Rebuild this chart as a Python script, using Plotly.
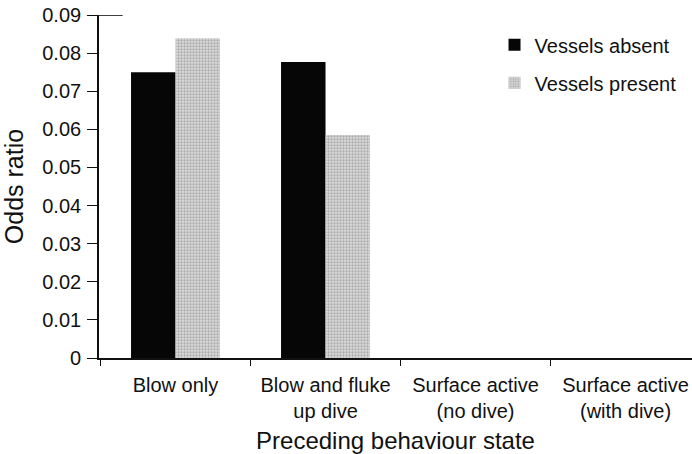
import plotly.graph_objects as go

categories = ["Blow only", "Blow and fluke<br>up dive", "Surface active<br>(no dive)", "Surface active<br>(with dive)"]
vessels_absent = [0.075, 0.0777, 0.0, 0.0]
vessels_present = [0.0839, 0.0585, 0.0, 0.0]
y_ticks = [0, 0.01, 0.02, 0.03, 0.04, 0.05, 0.06, 0.07, 0.08, 0.09]
y_tick_text = ["0", "0.01", "0.02", "0.03", "0.04", "0.05", "0.06", "0.07", "0.08", "0.09"]

FONT = "Liberation Sans, Arial, sans-serif"

fig = go.Figure()
fig.add_trace(go.Bar(
    x=categories, y=vessels_absent, name="Vessels absent",
    marker=dict(color="#060606", line=dict(width=0)),
    legendgroup="a",
))
fig.add_trace(go.Bar(
    x=categories, y=vessels_present, name="Vessels present",
    marker=dict(color="#d2d2d2", line=dict(width=0),
                pattern=dict(shape=".", fgcolor="#7a7a7a", bgcolor="#dcdcdc",
                             size=3, solidity=0.45)),
    legendgroup="b",
))

fig.update_layout(
    width=692, height=454,
    margin=dict(l=99, r=0, t=15, b=96),
    paper_bgcolor="white", plot_bgcolor="white",
    barmode="group", bargap=0.407, bargroupgap=0.0,
    font=dict(family=FONT, color="#111", size=20),
    legend=dict(x=0.667, y=0.970, xanchor="left", yanchor="top",
                font=dict(size=20, family=FONT), bgcolor="rgba(0,0,0,0)",
                traceorder="grouped", tracegroupgap=9, itemwidth=30),
    showlegend=True,
)
fig.update_xaxes(
    type="category", range=[-0.51, 3.443], automargin=False,
    showline=True, linecolor="#111", linewidth=1.6,
    ticks="outside", tickson="boundaries", ticklen=6, tickcolor="#111", tickwidth=1.4,
    ticklabelstandoff=8,
    tickfont=dict(size=20, family=FONT, color="#111"),
    title=dict(text="Preceding behaviour state", font=dict(size=24, family=FONT, color="#111"), standoff=15),
    showgrid=False, zeroline=False,
)
fig.update_yaxes(
    range=[0, 0.09], tickvals=y_ticks, ticktext=y_tick_text, automargin=False,
    showline=True, linecolor="#111", linewidth=1.6,
    ticks="outside", ticklen=10, tickcolor="#111", tickwidth=1.4,
    ticklabelstandoff=2,
    tickfont=dict(size=20, family=FONT, color="#111"),
    title=dict(text="Odds ratio", font=dict(size=25, family=FONT, color="#111"), standoff=15),
    showgrid=False, zeroline=False,
)
fig.add_shape(type="line", xref="paper", yref="y", x0=-0.006, x1=0.04, y0=0.09, y1=0.09,
              line=dict(color="#111", width=1.6))

fig.write_html("out.html", config={"displayModeBar": False},
               post_script="document.body.style.margin='0';")
